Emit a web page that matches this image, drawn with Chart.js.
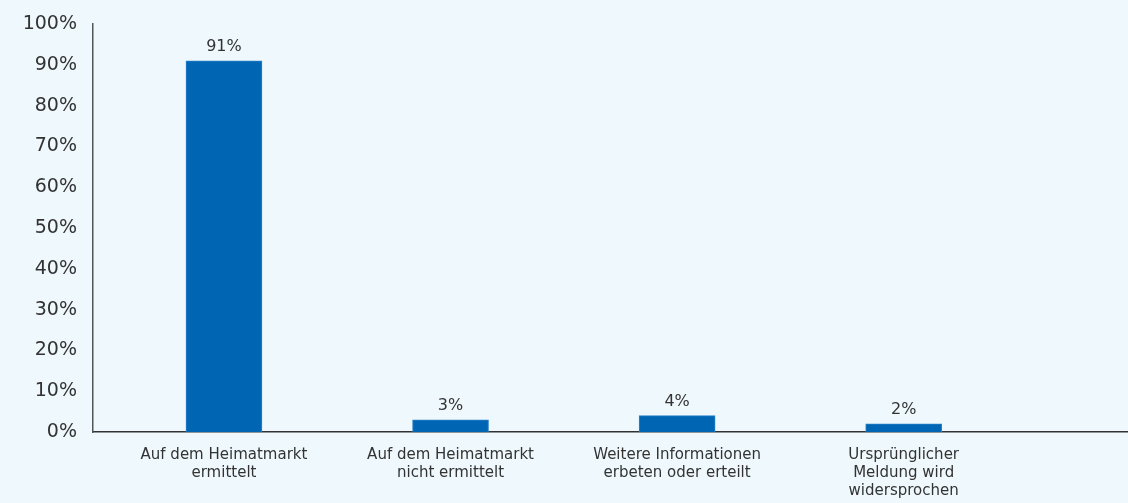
<!DOCTYPE html>
<html>
<head>
<meta charset="utf-8">
<script src="https://cdn.jsdelivr.net/npm/chart.js@4.4.1/dist/chart.umd.min.js"></script>
<style>
    html, body { margin: 0; padding: 0; background: #eef8fd; }
    #wrap { width: 1128px; height: 503px; position: relative; }
</style>
</head>
<body>
<div id="wrap"><canvas id="chart"></canvas></div>
<script>
// chart data
const categories = [
    ["Auf dem Heimatmarkt", "ermittelt"],
    ["Auf dem Heimatmarkt", "nicht ermittelt"],
    ["Weitere Informationen", "erbeten oder erteilt"],
    ["Ursprünglicher", "Meldung wird", "widersprochen"]
];
const shares = [91, 3, 4, 2];
const yTicks = [0, 10, 20, 30, 40, 50, 60, 70, 80, 90, 100];

const textColor = "#333333";
const fontFamily = "'DejaVu Sans', Verdana, sans-serif";

// labels above the bars
const valueLabels = {
    id: "valueLabels",
    afterDatasetsDraw(chart) {
        const ctx = chart.ctx;
        const meta = chart.getDatasetMeta(0);
        ctx.save();
        ctx.font = "16px " + fontFamily;
        ctx.fillStyle = textColor;
        ctx.textAlign = "center";
        ctx.textBaseline = "alphabetic";
        meta.data.forEach((bar, i) => {
            ctx.fillText(shares[i] + "%", bar.x, bar.y - 10);
        });
        ctx.restore();
    }
};

new Chart(document.getElementById("chart"), {
    type: "bar",
    data: {
        datasets: [{
            data: shares.map((v, i) => ({ x: i, y: v })),
            backgroundColor: "#0066b3",
            borderColor: "#2a82c6",
            borderWidth: { top: 1, left: 1, right: 1, bottom: 0 },
            barThickness: 76
        }]
    },
    options: {
        responsive: true,
        maintainAspectRatio: false,
        animation: false,
        layout: { padding: { top: 24, right: 0, left: 0, bottom: 0 } },
        plugins: {
            legend: { display: false },
            tooltip: { enabled: false }
        },
        scales: {
            x: {
                type: "linear",
                offset: false,
                bounds: "data",
                min: -0.578,
                max: 3.99,
                grid: { display: false, drawTicks: false },
                border: { display: true, color: "#333333", width: 1.5 },
                afterBuildTicks: (axis) => {
                    axis.ticks = categories.map((c, i) => ({ value: i }));
                },
                afterFit: (axis) => { axis.height = 71; },
                ticks: {
                    color: textColor,
                    font: { family: fontFamily, size: 15, lineHeight: 1.2 },
                    padding: 14,
                    maxRotation: 0,
                    autoSkip: false,
                    callback: (value) => categories[value]
                }
            },
            y: {
                min: 0,
                max: 100,
                grid: { display: false, drawTicks: false },
                border: { display: true, color: "#555555", width: 1.5 },
                afterBuildTicks: (axis) => {
                    axis.ticks = yTicks.map((v) => ({ value: v }));
                },
                afterFit: (axis) => {
                    axis.width = 93;
                    axis.paddingTop = 0;
                    axis.paddingBottom = 0;
                },
                ticks: {
                    color: textColor,
                    font: { family: fontFamily, size: 19 },
                    padding: 16,
                    callback: (value) => value + "%"
                }
            }
        }
    },
    plugins: [valueLabels]
});
</script>
</body>
</html>
